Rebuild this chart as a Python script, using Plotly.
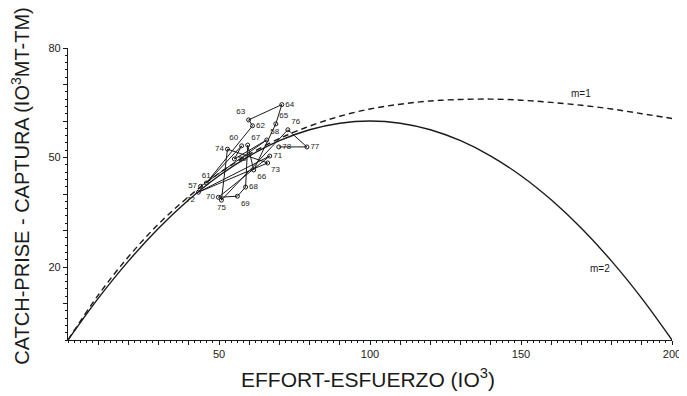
import plotly.graph_objects as go

# Model curves
effort_curve = [0, 10, 20, 30, 40, 50, 60, 70, 80, 90, 100, 110, 120, 130, 140,
                150, 160, 170, 180, 190, 200]
catch_m2 = [0, 11.4, 21.6, 30.6, 38.4, 45.0, 50.4, 54.6, 57.6, 59.4, 60.0, 59.4,
            57.6, 54.6, 50.4, 45.0, 38.4, 30.6, 21.6, 11.4, 0]
catch_m1 = [0, 12.3, 22.8, 31.8, 39.3, 45.7, 50.9, 55.2, 58.6, 61.3, 63.3, 64.6,
            65.5, 65.9, 66.0, 65.7, 65.1, 64.3, 63.3, 62.0, 60.7]

# Observed yearly data
years = ["57", "58", "59", "60", "61", "62", "63", "64", "65", "66", "67", "68",
         "69", "70", "71", "72", "73", "74", "75", "76", "77", "78"]
effort_obs = [43.9, 65.8, 55.1, 57.5, 45.8, 61.1, 59.8, 70.8, 68.8, 61.5, 59.5, 58.8,
              56.1, 49.8, 66.8, 43.2, 66.1, 52.8, 50.8, 72.8, 79.1, 69.8]
catch_obs = [42.1, 54.8, 49.6, 53.2, 43.0, 58.7, 60.3, 64.5, 59.2, 46.6, 53.4, 41.9,
             39.4, 39.1, 50.4, 40.5, 48.5, 52.3, 38.3, 57.6, 52.9, 52.9]
label_pos = ["middle left", "top right", "middle right", "top left", "top center",
             "middle right", "top left", "middle right", "top right", "bottom right",
             "top right", "middle right", "bottom right", "middle left", "middle right",
             "bottom left", "bottom right", "middle left", "bottom center", "top right",
             "middle right", "middle right"]

x_tick_vals = list(range(10, 201, 10))
x_tick_text = [str(v) if v % 50 == 0 else "" for v in x_tick_vals]
y_tick_vals = list(range(10, 81, 10))
y_tick_text = [str(v) if v in (20, 50, 80) else "" for v in y_tick_vals]

ink = "#1a1a1a"
fnt = "Liberation Sans, Arial, sans-serif"

fig = go.Figure()
fig.add_trace(go.Scatter(x=effort_curve, y=catch_m1, mode="lines", line_shape="spline",
                         line=dict(color=ink, width=1.4, dash="6px,4px"),
                         showlegend=False, hoverinfo="skip"))
fig.add_trace(go.Scatter(x=effort_curve, y=catch_m2, mode="lines", line_shape="spline",
                         line=dict(color=ink, width=1.4),
                         showlegend=False, hoverinfo="skip"))
fig.add_trace(go.Scatter(x=effort_obs, y=catch_obs, mode="lines+markers+text",
                         text=years, textposition=label_pos,
                         textfont=dict(size=8, color=ink, family=fnt),
                         line=dict(color=ink, width=1),
                         marker=dict(symbol="circle-open", size=4, color=ink,
                                     line=dict(width=1, color=ink)),
                         cliponaxis=False, showlegend=False))

fig.add_annotation(x=170, y=67.5, text="m=1", showarrow=False,
                   font=dict(size=10, color=ink, family=fnt), xanchor="center")
fig.add_annotation(x=176, y=19.6, text="m=2", showarrow=False,
                   font=dict(size=10, color=ink, family=fnt), xanchor="center")

fig.add_annotation(xref="paper", yref="paper", x=0.497, y=-0.13,
                   xanchor="center", yanchor="middle",
                   text="EFFORT-ESFUERZO (IO<sup>3</sup>)", showarrow=False,
                   font=dict(size=21, color=ink, family=fnt))
fig.add_annotation(xref="paper", yref="paper", x=-0.078, y=0.528, textangle=-90,
                   xanchor="center", yanchor="middle",
                   text="CATCH-PRISE - CAPTURA (IO<sup>3</sup>MT-TM)", showarrow=False,
                   font=dict(size=20, color=ink, family=fnt))

fig.update_xaxes(range=[0, 200], showgrid=False, zeroline=False, automargin=False,
                 showline=True, linecolor=ink, linewidth=1.2,
                 ticks="outside", ticklen=4, tickcolor=ink, tickwidth=1,
                 tickvals=x_tick_vals, ticktext=x_tick_text,
                 tickfont=dict(size=11, color=ink, family=fnt),
                 minor=dict(ticks="outside", ticklen=2, dtick=2, tickcolor=ink))
fig.update_yaxes(range=[0, 80], showgrid=False, zeroline=False, automargin=False,
                 showline=True, linecolor=ink, linewidth=1.2,
                 ticks="outside", ticklen=4, tickcolor=ink, tickwidth=1,
                 tickvals=y_tick_vals, ticktext=y_tick_text,
                 tickfont=dict(size=11, color=ink, family=fnt),
                 minor=dict(ticks="outside", ticklen=2, dtick=2, tickcolor=ink))

fig.update_layout(width=679, height=388, plot_bgcolor="white", paper_bgcolor="white",
                  margin=dict(l=60, r=15, t=40, b=56), showlegend=False)

fig.write_html("out.html")
